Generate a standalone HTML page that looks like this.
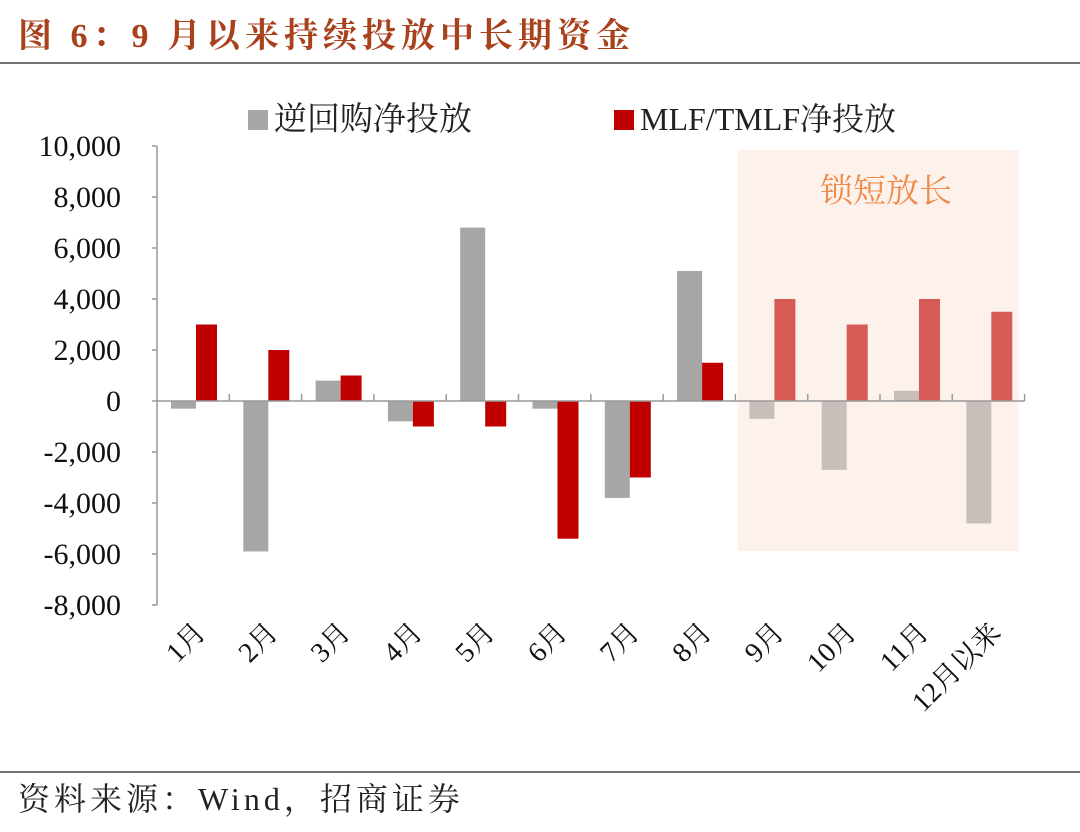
<!DOCTYPE html>
<html><head><meta charset="utf-8"><style>
body{margin:0;background:#fff;width:1080px;height:832px;overflow:hidden}
svg{display:block}
.s{font-family:"Liberation Serif","Noto Serif CJK SC",serif}
</style></head><body>
<svg width="1080" height="832">
<text x="18" y="47" class="s" font-size="34" font-weight="bold" fill="#a8411c" letter-spacing="5">图 6：9 月以来持续投放中长期资金</text>
<line x1="0" y1="63" x2="1080" y2="63" stroke="#444" stroke-width="1.5"/>
<rect x="738" y="150" width="281" height="401" fill="#fcf1eb"/>
<text x="886" y="202" text-anchor="middle" class="s" font-size="33" fill="#f08a4b">锁短放长</text>
<rect x="248" y="110" width="20" height="20" fill="#a6a6a6"/>
<text x="274" y="130" class="s" font-size="33" fill="#222">逆回购净投放</text>
<rect x="614" y="110" width="20" height="20" fill="#c00000"/>
<text x="640" y="130" class="s" font-size="32" fill="#222">MLF/TMLF净投放</text>
<g id="plot"></g>
<line x1="0" y1="772" x2="1080" y2="772" stroke="#444" stroke-width="1.5"/>
<text x="18" y="810" class="s" font-size="32" fill="#222" letter-spacing="4">资料来源：Wind，招商证券</text>
</svg>
<script>
const categories=["1月","2月","3月","4月","5月","6月","7月","8月","9月","10月","11月","12月以来"];
const repoValues=[-300,-5900,800,-800,6800,-300,-3800,5100,-700,-2700,400,-4800];
const mlfValues=[3000,2000,1000,-1000,-1000,-5400,-3000,1500,4000,3000,4000,3500];
const yTicks=[10000,8000,6000,4000,2000,0,-2000,-4000,-6000,-8000];
const highlightFrom=8;
const NS="http://www.w3.org/2000/svg";
const g=document.getElementById("plot");
const x0=157,step=72.3,y0=401,pxPer=25.5/1000;
const yS=v=>y0-v*pxPer;
function mk(t,a){const e=document.createElementNS(NS,t);for(const k in a)e.setAttribute(k,a[k]);g.appendChild(e);return e;}
let ax=mk("line",{x1:x0,y1:yS(10000),x2:x0,y2:yS(-8000),stroke:"#999","stroke-width":1.5});


yTicks.forEach(v=>{
 const t=mk("text",{x:121,y:yS(v)+10,"text-anchor":"end","font-size":30,fill:"#111",class:"s"});
 t.textContent=v.toLocaleString("en-US");
 
 
 mk("line",{x1:x0-5,y1:yS(v),x2:x0,y2:yS(v),stroke:"#999","stroke-width":1.5});
});
categories.forEach((c,i)=>{
 const xs=x0+i*step,hl=i>=highlightFrom;
 const rv=repoValues[i],mv=mlfValues[i];
 const rb=mk("rect",{x:xs+14,y:Math.min(yS(rv),y0),width:25,height:Math.abs(yS(rv)-y0),fill:hl?"#c8bfba":"#a6a6a6"});
 
 
 const mb=mk("rect",{x:xs+39,y:Math.min(yS(mv),y0),width:21,height:Math.abs(yS(mv)-y0),fill:hl?"#d65a55":"#c00000"});
 
 
 mk("line",{x1:xs+step,y1:y0,x2:xs+step,y2:y0-7,stroke:"#999","stroke-width":1.5});
 const cx=xs+step/2+14;
 const t=mk("text",{x:cx,y:634,"text-anchor":"end","font-size":28,fill:"#111",class:"s",transform:`rotate(-45 ${cx} 634)`});
 t.textContent=c;
 
 
});
let xa=mk("line",{x1:x0,y1:y0,x2:x0+12*step,y2:y0,stroke:"#999","stroke-width":1.5});


</script>
</body></html>
